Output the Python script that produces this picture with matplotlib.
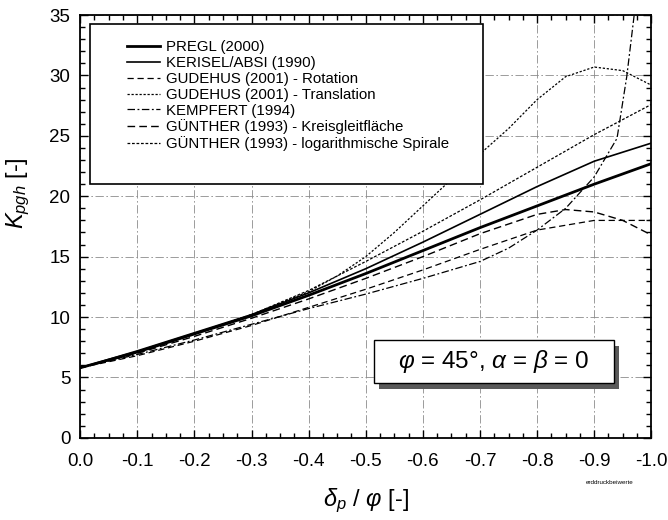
import numpy as np
import matplotlib
matplotlib.use('Agg')
import matplotlib.pyplot as plt
from matplotlib.patches import Rectangle
from matplotlib.ticker import MultipleLocator

# fonts: Arial-like look, math in the same family
plt.rcParams['font.family'] = ['Liberation Sans', 'DejaVu Sans']
plt.rcParams['mathtext.fontset'] = 'custom'
plt.rcParams['mathtext.rm'] = 'Liberation Sans'
plt.rcParams['mathtext.it'] = 'Liberation Sans:italic'
plt.rcParams['axes.unicode_minus'] = False

# ---- data (delta_p / phi -> K_pgh) ----
x_pregl = [0.0, -0.1, -0.2, -0.3, -0.4, -0.5, -0.6, -0.7, -0.8, -0.9, -1.0]
k_pregl = [5.8, 7.1, 8.6, 10.1, 11.8, 13.6, 15.5, 17.4, 19.2, 21.0, 22.7]

x_kerisel = [0.0, -0.1, -0.2, -0.3, -0.4, -0.5, -0.6, -0.7, -0.8, -0.9, -1.0]
k_kerisel = [5.8, 7.2, 8.7, 10.2, 12.0, 14.0, 16.2, 18.5, 20.8, 22.9, 24.4]

x_gud_rot = [0.0, -0.1, -0.2, -0.3, -0.4, -0.5, -0.6, -0.7, -0.8, -0.9, -1.0]
k_gud_rot = [5.8, 6.8, 8.0, 9.3, 10.8, 12.3, 13.9, 15.6, 17.2, 18.0, 18.0]

x_gud_trans = [0.0, -0.1, -0.2, -0.3, -0.4, -0.45, -0.5, -0.55, -0.6, -0.65, -0.7,
               -0.75, -0.8, -0.85, -0.9, -0.95, -1.0]
k_gud_trans = [5.8, 7.1, 8.6, 10.2, 12.1, 13.4, 15.0, 17.0, 19.2, 21.4, 23.5,
               25.6, 28.0, 29.9, 30.7, 30.4, 29.2]

x_kempfert = [0.0, -0.1, -0.2, -0.3, -0.4, -0.5, -0.6, -0.7, -0.75, -0.8, -0.85,
              -0.9, -0.92, -0.94, -0.957, -0.969, -0.975]
k_kempfert = [5.8, 6.9, 8.1, 9.4, 10.7, 11.9, 13.2, 14.6, 15.7, 17.2, 19.0,
              21.6, 23.2, 24.8, 29.9, 34.6, 37.0]

x_gue_kreis = [0.0, -0.1, -0.2, -0.3, -0.4, -0.5, -0.6, -0.7, -0.8, -0.85, -0.9, -0.95, -1.0]
k_gue_kreis = [5.8, 7.0, 8.4, 9.9, 11.5, 13.2, 15.0, 16.9, 18.5, 18.9, 18.7, 18.0, 16.8]

x_gue_log = [0.0, -0.1, -0.2, -0.3, -0.4, -0.5, -0.6, -0.7, -0.8, -0.9, -1.0]
k_gue_log = [5.8, 7.1, 8.6, 10.2, 12.2, 14.6, 17.1, 19.7, 22.4, 25.1, 27.6]

x_ticks = [0.0, -0.1, -0.2, -0.3, -0.4, -0.5, -0.6, -0.7, -0.8, -0.9, -1.0]
x_ticklabels = ['0.0', '-0.1', '-0.2', '-0.3', '-0.4', '-0.5', '-0.6', '-0.7', '-0.8', '-0.9', '-1.0']
y_ticks = [0, 5, 10, 15, 20, 25, 30, 35]

fig = plt.figure(figsize=(6.68, 5.2), dpi=100)
ax = fig.add_axes([0.120, 0.158, 0.855, 0.813])

dash = (0, (5, 3))
dot = (0, (1.8, 1.4))
dashdot = (0, (6, 2, 1.5, 2))

ax.plot(x_pregl, k_pregl, color='k', lw=2.0, label='PREGL (2000)')
ax.plot(x_kerisel, k_kerisel, color='k', lw=1.2, label='KERISEL/ABSI (1990)')
ax.plot(x_gud_rot, k_gud_rot, color='k', lw=0.9, ls=dash, label='GUDEHUS (2001) - Rotation')
ax.plot(x_gud_trans, k_gud_trans, color='k', lw=0.9, ls=dot, label='GUDEHUS (2001) - Translation')
ax.plot(x_kempfert, k_kempfert, color='k', lw=0.9, ls=dashdot, label='KEMPFERT (1994)')
ax.plot(x_gue_kreis, k_gue_kreis, color='k', lw=1.0, ls=(0, (5.5, 3)), label='GÜNTHER (1993) - Kreisgleitfläche')
ax.plot(x_gue_log, k_gue_log, color='k', lw=0.9, ls=(0, (2.2, 1.4)), label='GÜNTHER (1993) - logarithmische Spirale')

ax.set_xlim(0, -1.0)
ax.set_ylim(0, 35)
ax.set_xticks(x_ticks)
ax.set_xticklabels(x_ticklabels)
ax.set_yticks(y_ticks)
ax.xaxis.set_minor_locator(MultipleLocator(0.025))
ax.yaxis.set_minor_locator(MultipleLocator(1))
ax.tick_params(which='both', direction='in', top=True, right=True, width=1.0)
ax.tick_params(which='major', length=6, labelsize=13.5)
ax.tick_params(which='minor', length=3.5)
ax.tick_params(axis='x', pad=11)
ax.tick_params(axis='y', pad=7)
for s in ax.spines.values():
    s.set_linewidth(1.3)

ax.grid(True, which='major', color='0.55', lw=0.6, ls=(0, (10, 3, 2, 3)))
ax.set_axisbelow(True)

ax.set_xlabel(r'$\delta_p$ / $\varphi$ [-]', fontsize=17, labelpad=12)
ax.set_ylabel(r'$K_{pgh}$ [-]', fontsize=17)
ax.yaxis.set_label_coords(-0.085, 0.58)

# legend box
ax.add_patch(Rectangle((0.0175, 0.600), 0.687, 0.379, transform=ax.transAxes,
                       facecolor='white', edgecolor='k', lw=1.2, zorder=5))
leg = ax.legend(loc='upper left', bbox_to_anchor=(0.082, 0.94), frameon=False,
                fontsize=10.8, borderpad=0, borderaxespad=0, labelspacing=0.12,
                handlelength=2.2, handletextpad=0.4)
leg.set_zorder(6)

# annotation box with shadow
ax.add_patch(Rectangle((0.523, 0.115), 0.42, 0.103, transform=ax.transAxes,
                       facecolor='0.35', edgecolor='none', zorder=5))
ax.add_patch(Rectangle((0.514, 0.129), 0.42, 0.103, transform=ax.transAxes,
                       facecolor='white', edgecolor='k', lw=1.0, zorder=6))
ax.text(0.724, 0.180, r'$\varphi$ = 45°, $\alpha$ = $\beta$ = 0', transform=ax.transAxes,
        fontsize=17.5, ha='center', va='center', zorder=7)

fig.text(0.913, 0.073, 'erddruckbeiwerte', fontsize=4.5, ha='center', va='center')

fig.savefig('out.png', dpi=100)
